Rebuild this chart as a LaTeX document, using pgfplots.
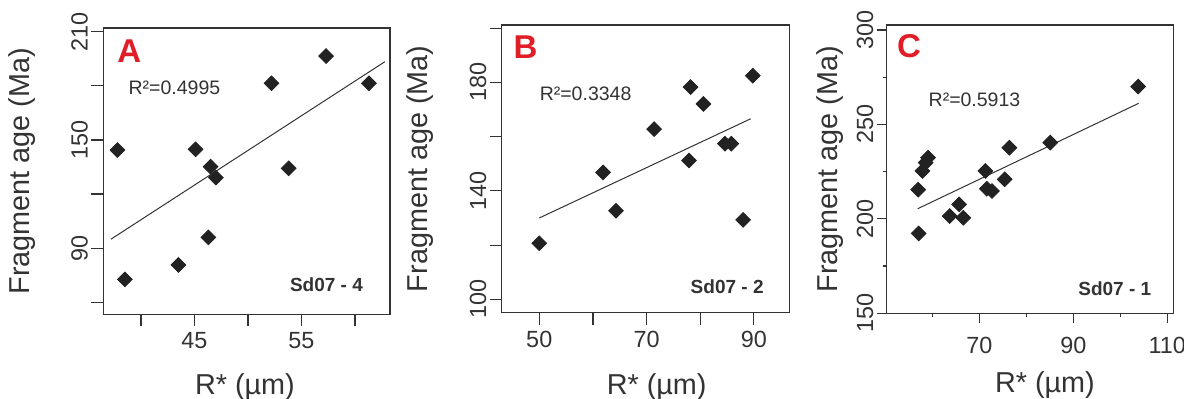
\documentclass[border=0pt]{standalone}
\usepackage{pgfplots}
\pgfplotsset{compat=1.18}
\usepackage{fontspec}
\setmainfont{Liberation Sans}
\definecolor{axgray}{HTML}{333333}
\definecolor{mk}{HTML}{222222}
\definecolor{pred}{HTML}{E01E28}
\pgfplotsset{
  every axis/.append style={
    scale only axis,
    axis line style={axgray, line width=0.6pt},
    tick style={axgray, line width=0.6pt},
    tick align=outside,
    major tick length=6pt,
    minor tick length=2pt,
    xtick pos=bottom, ytick pos=left,
    /pgf/number format/assume math mode=true,
    tick label style={font=\fontsize{11.7}{12}\selectfont, text=axgray},
    yticklabel style={rotate=90, anchor=south, inner sep=1.5pt},
    xticklabel style={inner sep=1.5pt, yshift=-1.5pt},
    label style={font=\fontsize{14.4}{15}\selectfont, text=axgray},
    anchor=south west,
  },
  dots/.style={only marks, mark=square*, mark size=2.6pt, color=mk, mark options={rotate=45, fill=mk, draw=mk}},
  trend/.style={no marks, color=axgray, line width=0.5pt},
}
\newcommand{\rtxt}{\fontsize{9.75}{10}\selectfont\color{axgray}}
\newcommand{\stxt}{\fontsize{9.5}{10}\selectfont\bfseries\color{axgray}}
\newcommand{\ptxt}{\fontsize{16.5}{17}\selectfont\bfseries\color{pred}}
\begin{document}
\begin{tikzpicture}
\path[use as bounding box] (0,0) rectangle (592pt,199pt);
% ---------- A ----------
\begin{axis}[
  at={(51.65pt,41.85pt)}, width=143.35pt, height=143.15pt,
  xmin=36.48, xmax=63.27, ymin=53.35, ymax=212.05,
  xtick={40,45,50,55,60}, xticklabels={,45,,55,},
  ytick={60,90,120,150,180,210}, yticklabels={,90,,150,,210},
  xlabel={R* (µm)}, ylabel={Fragment age (Ma)},
  xlabel style={at={(axis description cs:0.494,-0.253)}, anchor=center},
  ylabel style={at={(axis description cs:-0.285,0.5)}, anchor=center},
]
\addplot[dots] coordinates {
(37.8,144.4) (38.5,72.7) (43.5,80.7) (45.1,144.8) (46.3,96.0) (46.5,135.2)
(47.0,129.1) (52.2,181.4) (53.8,134.3) (57.3,196.5) (61.3,181.4)};
\addplot[trend] coordinates {(37.2,95.0) (62.8,193.4)};
\node[anchor=base west, inner sep=0pt] at (rel axis cs:0.048,0.879) {\ptxt A};
\node[anchor=base west, inner sep=0pt] at (rel axis cs:0.087,0.767) {\rtxt R²=0.4995};
\node[anchor=base east, inner sep=0pt] at (rel axis cs:0.907,0.081) {\stxt Sd07 - 4};
\end{axis}
% ---------- B ----------
\begin{axis}[
  at={(250.85pt,42.65pt)}, width=143.8pt, height=143.85pt,
  xmin=43.0, xmax=96.6, ymin=95.06, ymax=201.2,
  xtick={50,60,70,80,90}, xticklabels={50,,70,,90},
  ytick={100,120,140,160,180,200}, yticklabels={100,,140,,180,},
  xlabel={R* (µm)}, ylabel={Fragment age (Ma)},
  xlabel style={at={(axis description cs:0.539,-0.257)}, anchor=center},
  ylabel style={at={(axis description cs:-0.284,0.5)}, anchor=center},
]
\addplot[dots] coordinates {
(50.0,120.7) (61.9,146.8) (64.3,132.7) (71.4,162.8) (77.9,151.2) (78.2,178.3)
(80.6,172.1) (84.6,157.4) (85.8,157.4) (88.0,129.3) (89.8,182.5)};
\addplot[trend] coordinates {(50,130.0) (89.4,166.6)};
\node[anchor=base west, inner sep=0pt] at (rel axis cs:0.040,0.884) {\ptxt B};
\node[anchor=base west, inner sep=0pt] at (rel axis cs:0.131,0.736) {\rtxt R²=0.3348};
\node[anchor=base east, inner sep=0pt] at (rel axis cs:0.912,0.067) {\stxt Sd07 - 2};
\end{axis}
% ---------- C ----------
\begin{axis}[
  at={(443.35pt,42.35pt)}, width=143.35pt, height=144.15pt,
  xmin=50.3, xmax=111.3, ymin=149.9, ymax=302.6,
  xtick={70,90,110}, minor xtick={60,80,100},
  ytick={150,200,250,300}, minor ytick={175,225,275},
  major tick length=5pt,
  xticklabel style={yshift=-3.5pt},
  xlabel={R* (µm)}, ylabel={Fragment age (Ma)},
  xlabel style={at={(axis description cs:0.552,-0.249)}, anchor=center},
  ylabel style={at={(axis description cs:-0.198,0.5)}, anchor=center},
]
\addplot[dots] coordinates {
(57.0,215.4) (57.1,192.2) (57.9,225.3) (58.6,229.7) (59.1,232.3) (63.7,201.4)
(65.7,207.6) (66.6,200.5) (71.3,225.3) (71.6,215.9) (72.7,214.7) (75.4,220.9)
(76.4,237.6) (85.1,240.3) (103.8,270.0)};
\addplot[trend] coordinates {(56.9,205.3) (103.9,261.1)};
\node[anchor=base west, inner sep=0pt] at (rel axis cs:0.035,0.888) {\ptxt C};
\node[anchor=base west, inner sep=0pt] at (rel axis cs:0.145,0.719) {\rtxt R²=0.5913};
\node[anchor=base east, inner sep=0pt] at (rel axis cs:0.924,0.063) {\stxt Sd07 - 1};
\end{axis}
\end{tikzpicture}
\end{document}
